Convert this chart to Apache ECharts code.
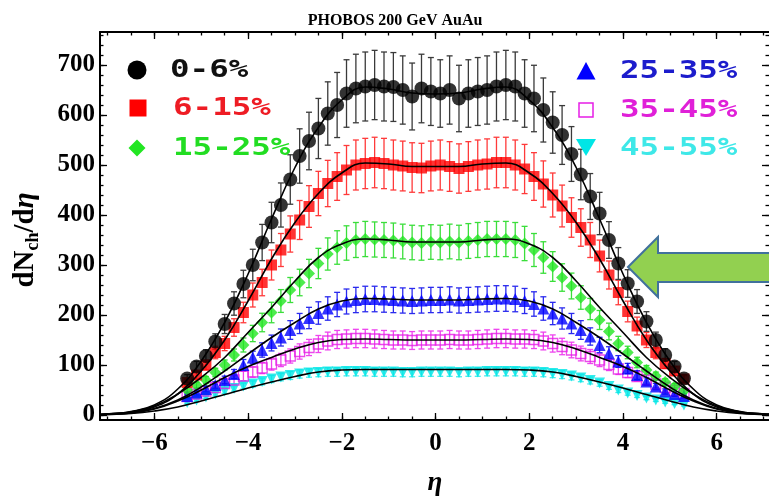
<!DOCTYPE html>
<html><head><meta charset="utf-8">
<script src="https://cdn.jsdelivr.net/npm/echarts@6/dist/echarts.min.js"></script>
<style>html,body{margin:0;padding:0;background:#fff}#c{width:769px;height:497px}</style>
</head><body><div id="c"></div>
<script>
// ---- data ----
const eta = [-5.3,-5.1,-4.9,-4.7,-4.5,-4.3,-4.1,-3.9,-3.7,-3.5,-3.3,-3.1,-2.9,-2.7,-2.5,-2.3,-2.1,-1.9,-1.7,-1.5,-1.3,-1.1,-0.9,-0.7,-0.5,-0.3,-0.1,
             0.1,0.3,0.5,0.7,0.9,1.1,1.3,1.5,1.7,1.9,2.1,2.3,2.5,2.7,2.9,3.1,3.3,3.5,3.7,3.9,4.1,4.3,4.5,4.7,4.9,5.1,5.3];
const c0_6   = [73,97,118,147,182,223,262,300,345,385,420,471,518,548,573,603,620,643,653,657,660,657,656,650,637,653,647,
                643,650,633,643,647,650,657,660,657,643,633,610,585,560,522,481,437,403,350,303,263,227,187,150,120,97,73];
const c6_15  = [65,80,100,125,143,175,205,240,265,300,330,362,390,417,443,463,477,490,500,503,505,503,500,498,495,494,498,
                500,497,493,497,500,502,505,505,500,492,477,462,440,418,395,375,350,318,280,245,207,178,150,125,103,88,72];
const c15_25 = [50,60,70,85,100,120,140,163,185,205,228,250,265,283,303,322,335,344,350,352,351,350,349,347,345,344,346,
                345,347,345,348,350,352,352,352,350,343,330,315,297,275,258,235,212,190,167,143,125,105,90,78,66,57,48];
const c25_35 = [38,45,52,60,70,82,100,115,130,144,155,170,183,194,204,213,221,227,230,232,232,231,230,229,228,229,230,
                230,231,229,230,231,232,233,233,232,228,222,213,203,193,183,170,157,140,123,107,93,80,67,57,47,42,38];
const c35_45 = [37,42,48,55,63,70,78,86,94,102,110,118,127,135,142,148,151,152,153,153,152,151,150,150,149,150,150,
                150,151,150,150,151,152,153,153,152,152,151,148,143,137,130,123,117,110,101,92,85,77,70,62,55,49,43];
const c45_55 = [25,30,36,42,48,53,58,62,67,72,76,79,82,84,85,86,86,87,87,87,86,86,86,85,85,86,86,
                86,86,85,86,86,87,87,87,87,86,86,85,83,81,78,74,69,64,57,50,44,39,34,30,26,23,20];
// relative error-bar half-size read per centrality class
const errFrac = [0.105,0.10,0.10,0.11,0.12,0.10];

const fitEta = [-7.2,-7,-6.5,-6,-5.5,-5,-4.5,-4,-3.5,-3,-2.5,-2,-1.5,-1,-0.5,0,0.5,1,1.5,2,2.5,3,3.5,4,4.5,5,5.5,6,6.5,7,7.2];
const fit0_6   = [1,2,7,20,52,108,185,282,392,495,575,630,656,652,644,642,644,652,656,630,575,495,392,282,185,108,52,20,7,2,1];
const fit6_15  = [1,1.8,5.5,16,42,88,150,228,312,385,443,484,504,502,497,497,497,502,504,484,443,385,312,228,150,88,42,16,5.5,1.8,1];
const fit15_25 = [0.7,2,6,18,42,75,115,165,215,268,315,342,352,350,346,346,346,350,352,342,315,268,215,165,115,75,42,18,6,2,0.7];
const fit25_35 = [0.5,1.5,5,13,30,56,88,122,155,185,212,228,233,232,230,230,230,232,233,228,212,185,155,122,88,56,30,13,5,1.5,0.5];
const fit35_45 = [0.4,1.2,4,12,28,50,75,97,115,132,145,151,152,151,150,150,150,151,152,151,145,132,115,97,75,50,28,12,4,1.2,0.4];
const fit45_55 = [0.3,1,3,8,16,28,41,54,66,77,86,90,91,91,91,91,91,91,91,90,86,77,66,54,41,28,16,8,3,1,0.3];

const seriesNames = ['0-6%','6-15%','15-25%','25-35%','35-45%','45-55%'];
const xMajorTicks = [-6,-4,-2,0,2,4,6];
const yMajorTicks = [0,100,200,300,400,500,600,700];
const xMinorTicks = []; for (let v = -14; v <= 14; v++) xMinorTicks.push(v / 2);
const yMinorTicks = []; for (let v = 0; v <= 760; v += 20) yMinorTicks.push(v);

const titleText = 'PHOBOS 200 GeV AuAu';

// ---- chart ----
const X_MIN = -7.16, X_MAX = 7.115, Y_MIN = -10, Y_MAX = 766;
const values = [c0_6, c6_15, c15_25, c25_35, c35_45, c45_55];
const fits = [fit0_6, fit6_15, fit15_25, fit25_35, fit35_45, fit45_55];
const markerColor = ['#000000','#ff0000','#22e622','#0000ff','#e61ee6','#00e6e6'];
const barColor = ['#3a3a3a','#ff3a3a','#3ade3a','#2a2aee','#ee44ee','#40ecec'];
const symbols = ['circle','rect','diamond','triangle','rect','triangle'];
const symSize = [14,11,12,12,10,11];

const chart = echarts.init(document.getElementById('c'), null, {renderer:'canvas'});
const labFont = {fontFamily:'Liberation Serif', fontWeight:'bold', fontSize:25, color:'#000'};

function xAx(grid, pos, major) {
  return {gridIndex:grid, type:'value', position:pos, min:X_MIN, max:X_MAX,
    axisLine:{show:major, onZero:false, lineStyle:{color:'#000', width:2}},
    axisTick:{show:true, inside:true, length: major?7:3.5, customValues: major?xMajorTicks:xMinorTicks, lineStyle:{color:'#000', width:1.3}},
    axisLabel:{show: major && pos==='bottom', customValues:xMajorTicks, margin:11,
      formatter: v => String(v).replace('-', '\u2212'), ...labFont},
    splitLine:{show:false}};
}
function yAx(grid, pos, major) {
  return {gridIndex:grid, type:'value', position:pos, min:Y_MIN, max:Y_MAX,
    axisLine:{show:major && pos==='left', onZero:false, lineStyle:{color:'#000', width:2}},
    axisTick:{show:true, inside:true, length: major?7:3.5, customValues: major?yMajorTicks:yMinorTicks, lineStyle:{color:'#000', width:1.3}},
    axisLabel:{show: major && pos==='left', customValues:yMajorTicks, margin:5, ...labFont},
    splitLine:{show:false}};
}

function errRender(color) {
  return function (params, api) {
    const x = api.value(0), lo = api.value(1), hi = api.value(2);
    const t = api.coord([x, hi]), b = api.coord([x, lo]);
    const s = {stroke: color, lineWidth: 1.3};
    const cap = 3;
    return {type:'group', children:[
      {type:'line', shape:{x1:t[0], y1:t[1], x2:b[0], y2:b[1]}, style:s},
      {type:'line', shape:{x1:t[0]-cap, y1:t[1], x2:t[0]+cap, y2:t[1]}, style:s},
      {type:'line', shape:{x1:b[0]-cap, y1:b[1], x2:b[0]+cap, y2:b[1]}, style:s}
    ]};
  };
}

const series = [];
for (let k = 5; k >= 0; k--) {
  series.push({type:'custom', name:seriesNames[k]+' err', xAxisIndex:0, yAxisIndex:0, z:2,
    renderItem: errRender(barColor[k]), encode:{x:0, y:[1,2]},
    data: eta.map((e,i)=>[e, values[k][i]*(1-errFrac[k]), values[k][i]*(1+errFrac[k])])});
}
for (let k = 5; k >= 0; k--) {
  const hollow = k === 4;
  series.push({type:'scatter', name:seriesNames[k], xAxisIndex:0, yAxisIndex:0, z:3,
    symbol: symbols[k], symbolSize: symSize[k], symbolRotate: k===5 ? 180 : 0,
    itemStyle: hollow ? {color:'rgba(0,0,0,0)', borderColor:markerColor[k], borderWidth:1.3} : {color:markerColor[k]},
    data: eta.map((e,i)=>[e, values[k][i]])});
}
for (let k = 0; k < 6; k++) {
  series.push({type:'line', name:seriesNames[k]+' fit', xAxisIndex:0, yAxisIndex:0, z:4,
    symbol:'none', smooth:0.45, lineStyle:{color:'#000', width:1.6},
    data: fitEta.map((e,i)=>[e, fits[k][i]])});
}

// legend drawn as graphic marks
const monoFont = {fontFamily:'DejaVu Sans Mono', fontWeight:'bold', fontSize:25};
const legendText = ['#111111','#ee1c24','#22dd22','#1c1ccc','#e020d8','#3ee8e8'];
const legX = [170,173,173,620,620,620], legY = [70,108,148,71,110,148];
const graphics = [];
seriesNames.forEach((n,k)=>{
  graphics.push({type:'text', x:legX[k], y:legY[k], scaleX:1.3, z:50,
    style:{text:n, x:0, y:0, fill:legendText[k], align:'left', verticalAlign:'middle', ...monoFont}});
});
graphics.push({type:'circle', z:50, shape:{cx:137, cy:70, r:9.5}, style:{fill:'#000'}});
graphics.push({type:'rect', z:50, shape:{x:129.5, y:99.5, width:17, height:17}, style:{fill:'#ff0000'}});
graphics.push({type:'polygon', z:50, shape:{points:[[137,139.5],[145.5,148],[137,156.5],[128.5,148]]}, style:{fill:'#22e622'}});
graphics.push({type:'polygon', z:50, shape:{points:[[586,62],[595.5,79.5],[576.5,79.5]]}, style:{fill:'#0000ff'}});
graphics.push({type:'rect', z:50, shape:{x:579, y:103, width:14, height:14}, style:{fill:'none', stroke:'#e61ee6', lineWidth:1.5}});
graphics.push({type:'polygon', z:50, shape:{points:[[576,139],[596,139],[586,156]]}, style:{fill:'#00e6e6'}});
// title and axis names
graphics.push({type:'text', z:50, x:395, y:21, style:{text:titleText, fill:'#000', align:'center', verticalAlign:'middle',
  fontFamily:'Liberation Serif', fontWeight:'bold', fontSize:16}});
graphics.push({type:'text', z:50, x:435, y:483, style:{text:'\u03b7', fill:'#000', align:'center', verticalAlign:'middle',
  fontFamily:'Liberation Serif', fontWeight:'bold', fontStyle:'italic', fontSize:27}});
graphics.push({type:'text', z:50, x:26, y:240, rotation:Math.PI/2, style:{
  text:'{a|dN}{s|ch}{a|/d}{e|\u03b7}', align:'center', verticalAlign:'middle',
  rich:{
    a:{fontFamily:'Liberation Serif', fontWeight:'bold', fontSize:29, lineHeight:32, fill:'#000'},
    e:{fontFamily:'Liberation Serif', fontWeight:'bold', fontStyle:'italic', fontSize:29, lineHeight:32, fill:'#000'},
    s:{fontFamily:'Liberation Serif', fontWeight:'bold', fontSize:18, lineHeight:16, verticalAlign:'bottom', fill:'#000'}
  }}});
// green annotation arrow
graphics.push({type:'polygon', z:60, shape:{points:[[628,267],[658,237],[658,253],[776,253],[776,282],[658,282],[658,297]]},
  style:{fill:'#92d050', stroke:'#41719c', lineWidth:2}});

chart.setOption({
  animation:false,
  backgroundColor:'#ffffff',
  grid:[{left:100, top:32, right:-2, bottom:77, containLabel:false},
        {left:100, top:32, right:-2, bottom:77, containLabel:false}],
  xAxis:[xAx(0,'bottom',true), xAx(0,'top',true), xAx(1,'bottom',false), xAx(1,'top',false)],
  yAxis:[yAx(0,'left',true), yAx(0,'right',true), yAx(1,'left',false), yAx(1,'right',false)],
  series: series,
  graphic: graphics
});
</script></body></html>
